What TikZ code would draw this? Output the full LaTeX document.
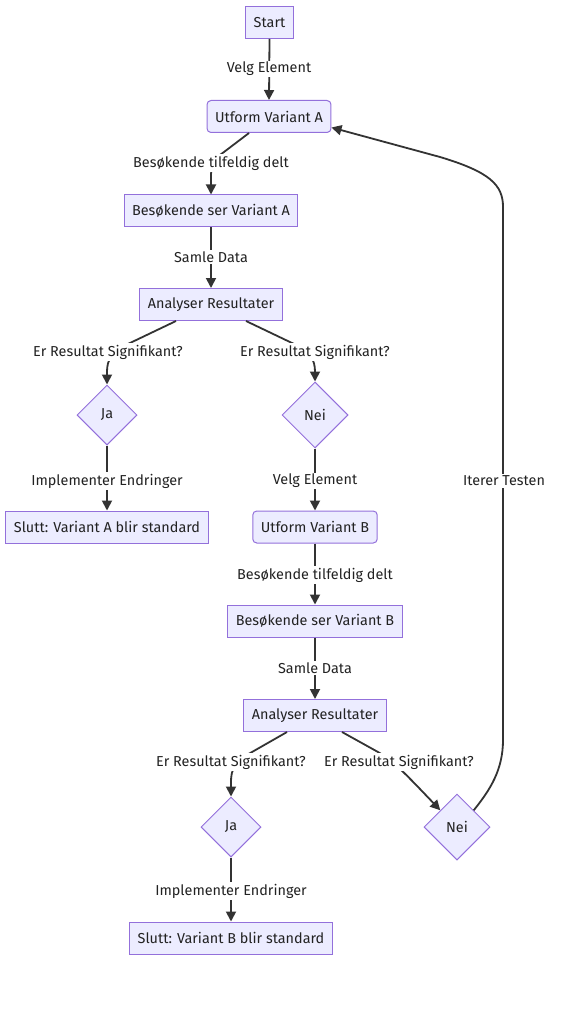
\documentclass[tikz,border=0pt]{standalone}
\usepackage{fontspec}
\setmainfont{Fira Sans}
\usetikzlibrary{shapes.geometric,arrows.meta}
\definecolor{nodefill}{HTML}{ECECFF}
\definecolor{nodeline}{HTML}{9370DB}
\definecolor{ink}{HTML}{333333}
\definecolor{txt}{HTML}{222222}
\begin{document}
\begin{tikzpicture}[x=1pt,y=-1pt,
  every node/.style={font=\fontsize{14.4}{16}\selectfont, text=txt},
  box/.style={draw=nodeline, fill=nodefill, line width=1pt, minimum height=32pt, inner xsep=8pt, inner ysep=0pt},
  rbox/.style={box, rounded corners=4pt},
  dia/.style={diamond, draw=nodeline, fill=nodefill, line width=1pt, aspect=1, inner sep=0pt},
  lbl/.style={fill=white, inner sep=1.5pt},
  arr/.style={draw=ink, line width=1.8pt, -{Triangle[length=10pt,width=10pt]}},
  ln/.style={draw=ink, line width=1.8pt}
]
\useasboundingbox (0,0) rectangle (563,1024);
% nodes
\node[box, minimum width=45pt] (start) at (269.5,22.5) {Start};
\node[rbox, minimum width=122pt] (ua) at (269,116.5) {Utform Variant A};
\node[box, minimum width=170pt] (ba) at (211,211) {Besøkende ser Variant A};
\node[box, minimum width=142pt] (an1) at (211,304.5) {Analyser Resultater};
\node[dia, minimum width=60pt, minimum height=60pt] (ja1) at (107,415) {Ja};
\node[dia, minimum width=66pt, minimum height=66pt] (nei1) at (315,415) {Nei};
\node[box, minimum width=200pt] (sa) at (107,527) {Slutt: Variant A blir standard};
\node[rbox, minimum width=123pt] (ub) at (315,527) {Utform Variant B};
\node[box, minimum width=171pt] (bb) at (315,621) {Besøkende ser Variant B};
\node[box, minimum width=141pt] (an2) at (315,715.5) {Analyser Resultater};
\node[dia, minimum width=60pt, minimum height=60pt] (ja2) at (231,827) {Ja};
\node[dia, minimum width=66pt, minimum height=66pt] (nei2) at (457,827) {Nei};
\node[box, minimum width=201pt] (sb) at (231,938) {Slutt: Variant B blir standard};
% edges
\draw[arr] (start.south) -- (ua.north);
\draw[arr] ([xshift=-20pt]ua.south) -- (224,152) .. controls (212,160) and (211,166) .. (211,178) -- (ba.north);
\draw[arr] (ba.south) -- (an1.north);
\draw[arr] ([xshift=-35pt]an1.south) -- (130,343) .. controls (111,352) and (107,360) .. (107,372) -- (ja1.north);
\draw[arr] ([xshift=35pt]an1.south) -- (292,343) .. controls (311,352) and (315,360) .. (315,372) -- (nei1.north);
\draw[arr] (ja1.south) -- (sa.north);
\draw[arr] (nei1.south) -- (ub.north);
\draw[arr] (ub.south) -- (bb.north);
\draw[arr] (bb.south) -- (an2.north);
\draw[arr] ([xshift=-28pt]an2.south) -- (252,752) .. controls (234,762) and (231,770) .. (231,782) -- (ja2.north);
\draw[arr] ([xshift=27pt]an2.south) -- (378,752) .. controls (392,760) and (402,770) .. (nei2.north west);
\draw[arr] (ja2.south) -- (sb.north);
\draw[arr] (nei2.north east) .. controls (490,790) and (503,770) .. (503,740) -- (503,207) .. controls (503,185) and (490,172) .. (440,157) -- ([yshift=-11pt]ua.east);
% labels
\node[lbl] (l1) at (269,69) {Velg Element};
\node[lbl] (l2) at (211,163) {Besøkende tilfeldig delt};
\node[lbl] (l3) at (211,257) {Samle Data};
\node[lbl] (l4) at (108,352) {Er Resultat Signifikant?};
\node[lbl] (l5) at (315,352) {Er Resultat Signifikant?};
\node[lbl] (l6) at (107,481) {Implementer Endringer};
\node[lbl] (l7) at (315,481) {Velg Element};
\node[lbl] (l8) at (315,575) {Besøkende tilfeldig delt};
\node[lbl] (l9) at (315,668) {Samle Data};
\node[lbl] (l10) at (231,762) {Er Resultat Signifikant?};
\node[lbl] (l11) at (399,762) {Er Resultat Signifikant?};
\node[lbl] (l12) at (231,891) {Implementer Endringer};
\node[lbl] (l13) at (504,481) {Iterer Testen};
\end{tikzpicture}
\end{document}
